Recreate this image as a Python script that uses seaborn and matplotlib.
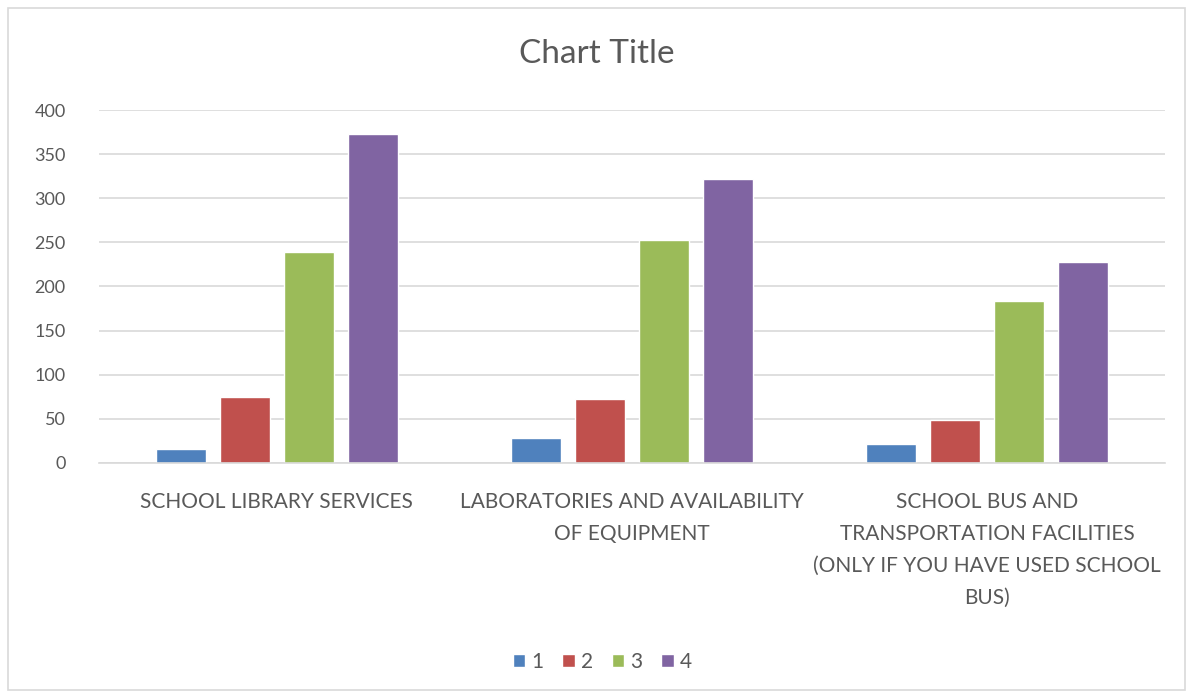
import matplotlib
matplotlib.use("Agg")
import matplotlib.pyplot as plt
import pandas as pd
import seaborn as sns

# ---- data ----
CATEGORIES = [
    "SCHOOL LIBRARY SERVICES",
    "LABORATORIES AND AVAILABILITY\nOF EQUIPMENT",
    "SCHOOL BUS AND\nTRANSPORTATION FACILITIES\n(ONLY IF YOU HAVE USED SCHOOL\nBUS)",
]
SERIES = ["1", "2", "3", "4"]
VALUES_1 = [16, 28, 22]
VALUES_2 = [75, 73, 49]
VALUES_3 = [239, 253, 183]
VALUES_4 = [373, 322, 228]
Y_TICKS = [0, 50, 100, 150, 200, 250, 300, 350, 400]

COLORS = ["#4f81bd", "#c0504d", "#9bbb59", "#8064a2"]
TEXT_GRAY = "#595959"

rows = []
for s, vals in zip(SERIES, [VALUES_1, VALUES_2, VALUES_3, VALUES_4]):
    for cat, v in zip(CATEGORIES, vals):
        rows.append({"category": cat, "series": s, "value": v})
df = pd.DataFrame(rows)

sns.set_theme(style="white")
plt.rcParams["font.family"] = ["Lato", "DejaVu Sans"]

fig = plt.figure(figsize=(11.93, 6.98), dpi=100)
ax = fig.add_axes([0.0830, 0.3367, 0.8935, 0.5057])

sns.barplot(data=df, x="category", y="value", hue="series", order=CATEGORIES,
            hue_order=SERIES, palette=COLORS, width=0.72, gap=0.22,
            saturation=1, ax=ax, legend=True)

ax.set_xlim(-0.5, 2.5)
ax.set_ylim(0, 400)
ax.set_yticks(Y_TICKS)
ax.yaxis.grid(True, color="#d9d9d9", linewidth=1.2)
ax.set_axisbelow(True)
for side in ["top", "right", "left"]:
    ax.spines[side].set_visible(False)
ax.spines["bottom"].set_color("#d9d9d9")
ax.spines["bottom"].set_linewidth(1.2)
ax.tick_params(axis="y", length=0, pad=24, labelsize=13, labelcolor=TEXT_GRAY)
ax.tick_params(axis="x", length=0, pad=21, labelsize=15, labelcolor=TEXT_GRAY)
for lbl in ax.get_xticklabels():
    lbl.set_verticalalignment("top")
    lbl.set_linespacing(1.74)
ax.set_xlabel("")
ax.set_ylabel("")

fig.text(0.5, 0.922, "Chart Title", ha="center", va="center", fontsize=24,
         color=TEXT_GRAY)

leg = ax.get_legend()
handles, labels = ax.get_legend_handles_labels()
leg.remove()
fig.legend(handles, labels, loc="center", bbox_to_anchor=(0.505, 0.052), ncol=4,
           frameon=False, fontsize=15, handlelength=0.6, handleheight=0.6,
           handletextpad=0.3, columnspacing=0.9, labelcolor=TEXT_GRAY)

# light border around the whole chart area
fig.patches.append(plt.Rectangle((0.007, 0.011), 0.986, 0.978, transform=fig.transFigure,
                                 fill=False, edgecolor="#d9d9d9", linewidth=1.2))

fig.savefig("out.png", dpi=100, facecolor="white")
